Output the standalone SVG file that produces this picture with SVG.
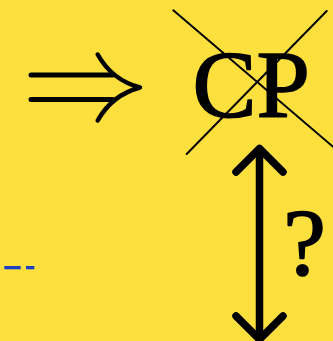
<svg xmlns="http://www.w3.org/2000/svg" width="333" height="341" viewBox="0 0 333 341">
  <style>
    .bg { fill: #FDDF3D; }
    .serif { font-family: "Liberation Serif", "DejaVu Serif", serif; fill: #000; stroke: #000; stroke-width: 1.6; stroke-linejoin: round; }
    .ink { fill: none; stroke: #000; stroke-linecap: round; stroke-linejoin: round; }
    .dash { fill: #1A3FC4; }
  </style>
  <rect class="bg" x="0" y="0" width="333" height="341"/>
  <g id="implies">
    <path class="ink" stroke-width="5" d="M31,75 H113 M31,99.5 H113"/>
    <path class="ink" stroke-width="4.5" d="M97.7,54.5 Q112,80 140,87.5 Q112,95 97.7,120.5"/>
  </g>
  <g id="cp">
    <text class="serif" x="192.5" y="116.5" font-size="96">CP</text>
    <path class="ink" stroke-width="2" stroke-linecap="butt" d="M173.3,10.3 L335,148.5 M326.7,11 L186.7,154"/>
  </g>
  <g id="connectors">
    <path class="ink" stroke-width="7.5" d="M259.5,150 V338 M236,172 L259.5,148.5 L283,172 M236,316 L259.5,339.5 L283,316"/>
  </g>
  <g id="question">
    <text class="serif" x="304.5" y="274.5" font-size="96" text-anchor="middle">?</text>
  </g>
  <g id="dashes">
    <rect class="dash" x="4.3" y="266" width="16.4" height="3.3"/>
    <rect class="dash" x="26" y="266" width="8.3" height="3.3"/>
  </g>
</svg>
